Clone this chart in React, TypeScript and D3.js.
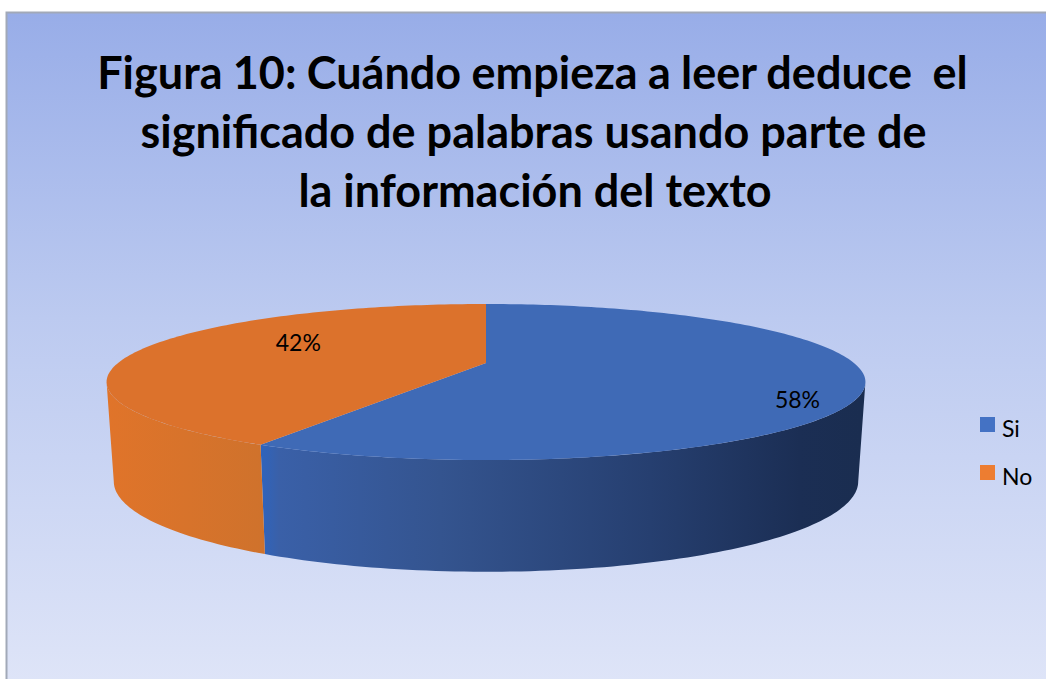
import React from "react";
import * as d3 from "d3";

const categories = ["Si", "No"];
const shares = [58, 42];
const titleLines = [
  "Figura 10: Cuándo empieza a leer deduce  el",
  "significado de palabras usando parte de",
  "la información del texto",
];
const topColors = ["#3f6ab6", "#dc722c"];
const legendColors = ["#4472c4", "#ed7d31"];

const W = 1046, H = 679;
const cx = 486;
const persp = 0.2436;
const topRim = { cy: 363, a: 368, b: 73.4 };
const bottomRim = { cy: 459.4, a: 361, b: 85 };
const labelRadius = [0.83, 0.544];
const labelDy = [23, -8];
const titleX = [532.5, 533.5, 535];
const titleSpacing = [-0.7, 0, 0];
const titleBaseline = 88.5;
const titleLeading = 59;

// Side wall is only visible between the left and right silhouette points of the rim.
const wallStart = Math.acos(-persp);
const wallEnd = 2 * Math.PI - wallStart;

function project(rim: { cy: number; a: number; b: number }, theta: number, r = 1) {
  const u = Math.sin(theta) * r;
  const n = -Math.cos(theta) * r;
  const w = 1 - persp * n;
  return [cx + (rim.a * u) / w, rim.cy + (rim.b * n) / w] as [number, number];
}

function samples(a0: number, a1: number) {
  const steps = Math.max(2, Math.ceil((a1 - a0) / 0.02));
  return d3.range(steps + 1).map((i) => a0 + ((a1 - a0) * i) / steps);
}

const line = d3.line();
const slices = d3.pie<number>().sort(null).startAngle(0).endAngle(2 * Math.PI)(shares);
const fmt = d3.format(".0%");
const total = d3.sum(shares);

export default function App() {
  return (
    <svg width={W} height={H} style={{ display: "block", position: "absolute", left: 0, top: 0 }}>
      <defs>
        <linearGradient id="bg" x1="0" y1="0" x2="0" y2="1">
          <stop offset="0" stopColor="#98ade8" />
          <stop offset="0.45" stopColor="#bccaf0" />
          <stop offset="1" stopColor="#dfe5f8" />
        </linearGradient>
        <linearGradient id="wall0" gradientUnits="userSpaceOnUse" x1="261" y1="0" x2="860" y2="0">
          <stop offset="0" stopColor="#2f64bd" />
          <stop offset="0.03" stopColor="#3a60a8" />
          <stop offset="0.3" stopColor="#34548f" />
          <stop offset="0.65" stopColor="#263f70" />
          <stop offset="0.9" stopColor="#1b2e54" />
          <stop offset="1" stopColor="#1a2d50" />
        </linearGradient>
        <linearGradient id="wall1" gradientUnits="userSpaceOnUse" x1="107" y1="0" x2="265" y2="0">
          <stop offset="0" stopColor="#e0742a" />
          <stop offset="1" stopColor="#cf722c" />
        </linearGradient>
      </defs>
      <rect x={0} y={0} width={W} height={H} fill="#ffffff" />
      <rect x={6.5} y={12.5} width={W} height={H} fill="url(#bg)" stroke="#a2a9b8" strokeWidth={2} />
      {slices.map((s, i) => {
        const a0 = Math.max(s.startAngle, wallStart);
        const a1 = Math.min(s.endAngle, wallEnd);
        if (a1 <= a0) return null;
        const angles = samples(a0, a1);
        const wall = [
          ...angles.map((t) => project(topRim, t)),
          ...angles.slice().reverse().map((t) => project(bottomRim, t)),
        ];
        return <path key={i} d={line(wall) + "Z"} fill={`url(#wall${i})`} />;
      })}
      {slices.map((s, i) => {
        const angles = samples(s.startAngle, s.endAngle);
        const pts = [project(topRim, 0, 0), ...angles.map((t) => project(topRim, t))];
        return <path key={i} d={line(pts) + "Z"} fill={topColors[i]} />;
      })}
      {slices.map((s, i) => {
        const [x, y] = project(topRim, (s.startAngle + s.endAngle) / 2, labelRadius[i]);
        return (
          <text key={i} x={x} y={y + labelDy[i]} textAnchor="middle" dominantBaseline="middle"
            fontFamily="Lato, sans-serif" fontSize={23} fill="#000">
            {fmt(s.value / total)}
          </text>
        );
      })}
      {titleLines.map((t, i) => (
        <text key={i} x={titleX[i]} y={titleBaseline + i * titleLeading} textAnchor="middle" xmlSpace="preserve"
          wordSpacing={titleSpacing[i]}
          fontFamily="Lato, sans-serif" fontWeight={700} fontSize={45} fill="#000">
          {t}
        </text>
      ))}
      {categories.map((c, i) => (
        <g key={c} transform={`translate(980,${417 + i * 48})`}>
          <rect width={15} height={15} fill={legendColors[i]} />
          <text x={22} y={20} fontFamily="Lato, sans-serif" fontSize={23} fill="#000">{c}</text>
        </g>
      ))}
    </svg>
  );
}
